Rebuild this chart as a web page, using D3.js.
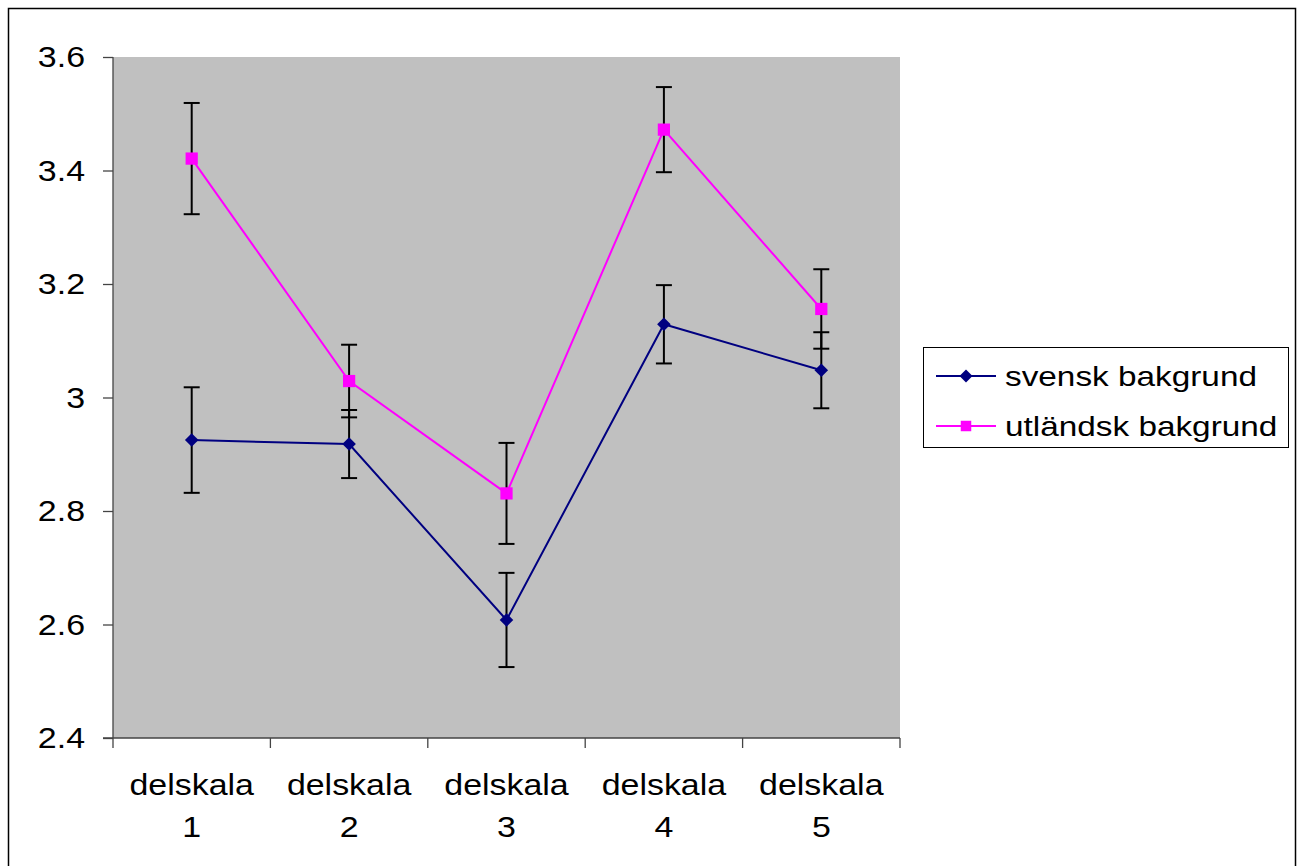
<!DOCTYPE html>
<html>
<head>
<meta charset="utf-8" />
<title>delskala</title>
<script src="https://d3js.org/d3.v7.min.js"></script>
<style>
  body { margin: 0; background: #fff; font-family: "Liberation Sans", Arial, sans-serif; }
  svg { display: block; }
</style>
</head>
<body>
<div id="chart"></div>
<script>
// data
var categories = ["delskala 1", "delskala 2", "delskala 3", "delskala 4", "delskala 5"];
var svensk = [2.925, 2.918, 2.608, 3.129, 3.048];
var svenskErr = [0.093, 0.06, 0.083, 0.069, 0.067];
var utlandsk = [3.421, 3.029, 2.831, 3.472, 3.156];
var utlandskErr = [0.098, 0.064, 0.089, 0.075, 0.07];
var yTicks = [2.4, 2.6, 2.8, 3, 3.2, 3.4, 3.6];
var seriesNames = ["svensk bakgrund", "utländsk bakgrund"];

var width = 1299, height = 866;
var margin = { top: 57, right: 399, bottom: 128, left: 113 };
var stretch = 1.17; // reference text is drawn wider than Liberation Sans

// diamonds are squares turned 45 degrees, as in the original
var series = [
  { name: seriesNames[0], values: svensk, err: svenskErr, color: "#000080", rot: 45, size: 92, lsize: 85 },
  { name: seriesNames[1], values: utlandsk, err: utlandskErr, color: "#ff00ff", rot: 0, size: 150, lsize: 110 }
];

var x = d3.scaleBand()
  .domain(categories)
  .range([margin.left, width - margin.right]);

var y = d3.scaleLinear()
  .domain([2.4, 3.6])
  .range([height - margin.bottom, margin.top]);

var svg = d3.select("#chart").append("svg")
  .attr("width", width)
  .attr("height", height);

function label(g, tx, ty, txt, anchor, size) {
  return g.append("text")
    .attr("transform", `translate(${tx},${ty}) scale(${stretch},1)`)
    .attr("text-anchor", anchor)
    .attr("font-size", size)
    .attr("font-family", "Liberation Sans, Arial, sans-serif")
    .attr("fill", "#000")
    .text(txt);
}

// outer frame
svg.append("rect")
  .attr("x", 8.5).attr("y", 8.5)
  .attr("width", 1287).attr("height", 870)
  .attr("fill", "#fff")
  .attr("stroke", "#000")
  .attr("stroke-width", 1.5);

// plot area
svg.append("rect")
  .attr("x", margin.left).attr("y", margin.top)
  .attr("width", width - margin.right - margin.left)
  .attr("height", height - margin.bottom - margin.top)
  .attr("fill", "#c0c0c0");

// y axis
var yAxis = svg.append("g")
  .attr("transform", `translate(${margin.left},0)`)
  .call(d3.axisLeft(y).tickValues(yTicks).tickSize(10).tickFormat(""));
yAxis.selectAll("line, path").attr("stroke", "#444").attr("stroke-width", 1.3);
yAxis.select(".domain").attr("d", `M0,${y(3.6)}V${y(2.4)}`);
yTicks.forEach(function (t) {
  label(svg, margin.left - 28, y(t) + 10, d3.format("")(t), "end", 29);
});

// x axis with ticks between categories
var xg = svg.append("g")
  .attr("transform", `translate(0,${y(2.4)})`);
xg.append("line")
  .attr("x1", margin.left - 10).attr("x2", width - margin.right)
  .attr("stroke", "#444").attr("stroke-width", 1.3);
var bounds = categories.map(function (c) { return x(c); }).concat([x(categories[categories.length - 1]) + x.bandwidth()]);
xg.selectAll(".tk")
  .data(bounds)
  .join("line")
  .attr("class", "tk")
  .attr("x1", function (d) { return d; }).attr("x2", function (d) { return d; })
  .attr("y1", 0).attr("y2", 10)
  .attr("stroke", "#444").attr("stroke-width", 1.3);
categories.forEach(function (c) {
  c.split(" ").forEach(function (p, i) {
    label(xg, x(c) + x.bandwidth() / 2, 57 + i * 42, p, "middle", 29);
  });
});

// lines, error bars, markers
var line = d3.line()
  .x(function (d, i) { return x(categories[i]) + x.bandwidth() / 2; })
  .y(function (d) { return y(d); });

series.forEach(function (s) {
  svg.append("path")
    .datum(s.values)
    .attr("d", line)
    .attr("fill", "none")
    .attr("stroke", s.color)
    .attr("stroke-width", 2);
});

series.forEach(function (s) {
  var g = svg.append("g");
  s.values.forEach(function (v, i) {
    var cx = x(categories[i]) + x.bandwidth() / 2;
    var y0 = y(v + s.err[i]), y1 = y(v - s.err[i]);
    g.append("line").attr("x1", cx).attr("x2", cx).attr("y1", y0).attr("y2", y1)
      .attr("stroke", "#000").attr("stroke-width", 2);
    [y0, y1].forEach(function (yy) {
      g.append("line").attr("x1", cx - 8).attr("x2", cx + 8).attr("y1", yy).attr("y2", yy)
        .attr("stroke", "#000").attr("stroke-width", 2);
    });
  });
});

series.forEach(function (s) {
  svg.append("g").selectAll("path")
    .data(s.values)
    .join("path")
    .attr("transform", function (d, i) {
      return `translate(${x(categories[i]) + x.bandwidth() / 2},${y(d)}) rotate(${s.rot})`;
    })
    .attr("d", d3.symbol().type(d3.symbolSquare).size(s.size))
    .attr("fill", s.color);
});

// legend
var lg = svg.append("g").attr("transform", "translate(923,347)");
lg.append("rect")
  .attr("x", 0.5).attr("y", 0.5)
  .attr("width", 365).attr("height", 100)
  .attr("fill", "#fff").attr("stroke", "#000").attr("stroke-width", 1);
series.forEach(function (s, i) {
  var ly = 29 + i * 50;
  lg.append("line").attr("x1", 13).attr("x2", 73).attr("y1", ly).attr("y2", ly)
    .attr("stroke", s.color).attr("stroke-width", 2);
  lg.append("path")
    .attr("transform", `translate(43,${ly}) rotate(${s.rot})`)
    .attr("d", d3.symbol().type(d3.symbolSquare).size(s.lsize))
    .attr("fill", s.color);
  label(lg, 82, ly + 10, s.name, "start", 28.5);
});
</script>
</body>
</html>
